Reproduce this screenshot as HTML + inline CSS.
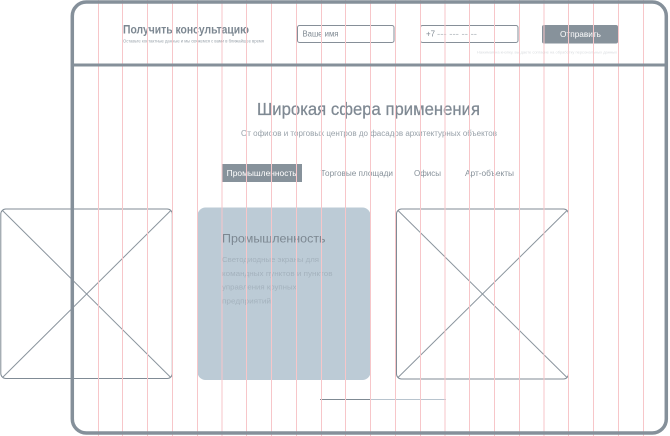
<!DOCTYPE html>
<html>
<head>
<meta charset="utf-8">
<style>
  html, body { margin: 0; padding: 0; background: #ffffff; }
  svg { display: block; }
  text { font-family: "Liberation Sans", "DejaVu Sans", sans-serif; }
</style>
</head>
<body>
<svg width="670" height="436" viewBox="0 0 670 436" xmlns="http://www.w3.org/2000/svg">
  <rect x="0" y="0" width="670" height="436" fill="#ffffff"/>

  <!-- Blue card -->
  <rect x="197.5" y="207.5" width="173" height="172.5" rx="8" ry="8" fill="#bccbd6"/>
  <text x="222" y="242.7" font-size="11.5" fill="#7c8791" textLength="103.5" lengthAdjust="spacingAndGlyphs">Промышленность</text>
  <text x="222" y="262" font-size="7" fill="#a4b2bd" textLength="97" lengthAdjust="spacingAndGlyphs">Светодиодные экраны для</text>
  <text x="222" y="275.8" font-size="7" fill="#a4b2bd" textLength="110.5" lengthAdjust="spacingAndGlyphs">командных пунктов и пунктов</text>
  <text x="222" y="289.5" font-size="7" fill="#a4b2bd" textLength="74.5" lengthAdjust="spacingAndGlyphs">управления крупных</text>
  <text x="222" y="303.3" font-size="7" fill="#a4b2bd" textLength="49" lengthAdjust="spacingAndGlyphs">предприятий</text>

  <!-- Left placeholder -->
  <rect x="0.8" y="209" width="171.5" height="169.5" rx="5" ry="5" fill="none" stroke="#808b95" stroke-width="1"/>
  <line x1="2.5" y1="210.5" x2="170.8" y2="377.5" stroke="#8a949d" stroke-width="1"/>
  <line x1="170.8" y1="210.5" x2="2.5" y2="377.5" stroke="#8a949d" stroke-width="1"/>

  <!-- Right placeholder -->
  <rect x="396.5" y="209" width="172" height="170" rx="5" ry="5" fill="none" stroke="#808b95" stroke-width="1"/>
  <line x1="398" y1="210.5" x2="567" y2="377.5" stroke="#8a949d" stroke-width="1"/>
  <line x1="567" y1="210.5" x2="398" y2="377.5" stroke="#8a949d" stroke-width="1"/>

  <!-- Slider line -->
  <line x1="320" y1="399.5" x2="370" y2="399.5" stroke="#7f8a93" stroke-width="1"/>
  <line x1="370" y1="399.5" x2="446" y2="399.5" stroke="#b8c4ce" stroke-width="1"/>

  <!-- Header content -->
  <text x="123" y="33.5" font-size="12" font-weight="bold" fill="#7c8791" textLength="126" lengthAdjust="spacingAndGlyphs">Получить консультацию</text>
  <text x="123" y="42.6" font-size="4.2" fill="#9aa3ab" textLength="141" lengthAdjust="spacingAndGlyphs">Оставьте контактные данные и мы свяжемся с вами в ближайшее время</text>

  <rect x="297.5" y="25.5" width="96.5" height="17" rx="2" ry="2" fill="#ffffff" stroke="#868f98" stroke-width="1"/>
  <text x="302.5" y="36.5" font-size="8" fill="#7d8790" textLength="36" lengthAdjust="spacingAndGlyphs">Ваше имя</text>

  <rect x="420.5" y="25.5" width="97.5" height="17" rx="2" ry="2" fill="#ffffff" stroke="#868f98" stroke-width="1"/>
  <text x="426" y="36.5" font-size="8" fill="#7d8790" textLength="9" lengthAdjust="spacingAndGlyphs">+7</text>
  <text x="437" y="36.5" font-size="8" fill="#a3abb2" textLength="40" lengthAdjust="spacingAndGlyphs">--- --- -- --</text>

  <rect x="542" y="25" width="76" height="18.5" rx="2" ry="2" fill="#87929b"/>
  <text x="560" y="37" font-size="8.5" fill="#ffffff" textLength="41" lengthAdjust="spacingAndGlyphs">Отправить</text>

  <text x="477" y="53.5" font-size="4" fill="#d9dcdf" textLength="140" lengthAdjust="spacingAndGlyphs">Нажимая на кнопку, вы даете согласие на обработку персональных данных</text>

  <!-- Section heading -->
  <text x="257" y="115" font-size="17.5" fill="#7f8993" stroke="#7f8993" stroke-width="0.25" textLength="223" lengthAdjust="spacingAndGlyphs">Широкая сфера применения</text>
  <text x="241" y="136" font-size="7.8" fill="#98a1a9" textLength="256" lengthAdjust="spacingAndGlyphs">От офисов и торговых центров до фасадов архитектурных объектов</text>

  <!-- Tabs -->
  <rect x="222" y="164" width="80" height="18" fill="#87929b"/>
  <text x="226.7" y="176.2" font-size="8" fill="#ffffff" textLength="70" lengthAdjust="spacingAndGlyphs">Промышленность</text>
  <text x="320.7" y="176.2" font-size="8" fill="#87919a" textLength="72.3" lengthAdjust="spacingAndGlyphs">Торговые площади</text>
  <text x="414" y="176.2" font-size="8" fill="#87919a" textLength="27" lengthAdjust="spacingAndGlyphs">Офисы</text>
  <text x="465" y="176.2" font-size="8" fill="#87919a" textLength="49" lengthAdjust="spacingAndGlyphs">Арт-объекты</text>

  <!-- Grid lines -->
  <g stroke="#f7c6c9" stroke-width="1">
    <line x1="98.5" y1="0" x2="98.5" y2="436"/>
    <line x1="122.5" y1="0" x2="122.5" y2="436"/>
    <line x1="147.5" y1="0" x2="147.5" y2="436"/>
    <line x1="172.5" y1="0" x2="172.5" y2="436"/>
    <line x1="197.5" y1="0" x2="197.5" y2="436"/>
    <line x1="222" y1="0" x2="222" y2="436"/>
    <line x1="246.5" y1="0" x2="246.5" y2="436"/>
    <line x1="271.5" y1="0" x2="271.5" y2="436"/>
    <line x1="296.5" y1="0" x2="296.5" y2="436"/>
    <line x1="321.5" y1="0" x2="321.5" y2="436"/>
    <line x1="345.5" y1="0" x2="345.5" y2="436"/>
    <line x1="370.5" y1="0" x2="370.5" y2="436"/>
    <line x1="395.5" y1="0" x2="395.5" y2="436"/>
    <line x1="420.5" y1="0" x2="420.5" y2="436"/>
    <line x1="445" y1="0" x2="445" y2="436"/>
    <line x1="469.5" y1="0" x2="469.5" y2="436"/>
    <line x1="494.5" y1="0" x2="494.5" y2="436"/>
    <line x1="519.5" y1="0" x2="519.5" y2="436"/>
    <line x1="544" y1="0" x2="544" y2="436"/>
    <line x1="568.5" y1="0" x2="568.5" y2="436"/>
    <line x1="593.5" y1="0" x2="593.5" y2="436"/>
    <line x1="618.5" y1="0" x2="618.5" y2="436"/>
    <line x1="643.5" y1="0" x2="643.5" y2="436"/>
  </g>

  <!-- Frame -->
  <line x1="72.3" y1="65" x2="666" y2="65" stroke="#85909a" stroke-width="3"/>
  <rect x="72.3" y="2" width="594" height="431" rx="14" ry="14" fill="none" stroke="#85909a" stroke-width="3.5"/>
</svg>
</body>
</html>
